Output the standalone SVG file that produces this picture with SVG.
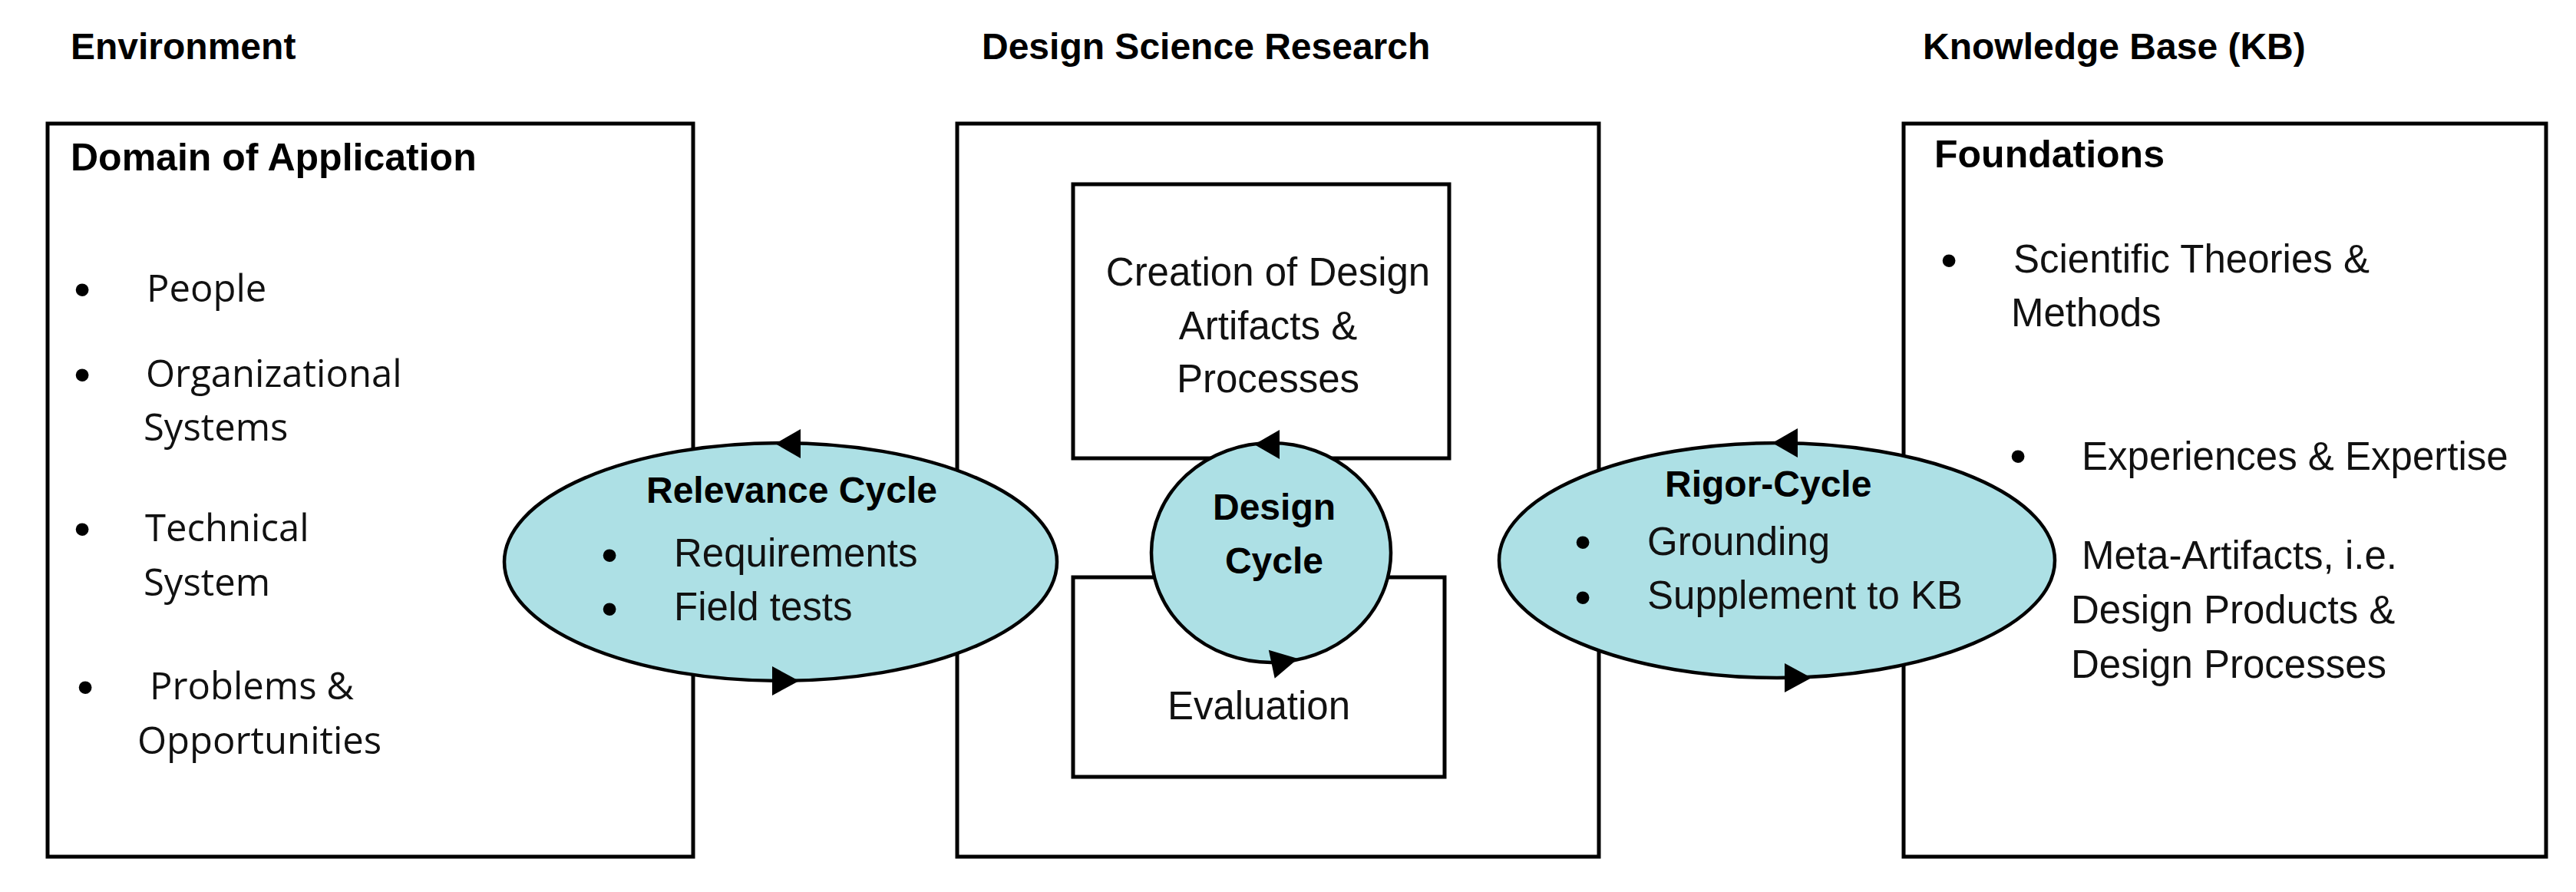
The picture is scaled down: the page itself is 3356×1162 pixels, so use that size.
<svg xmlns="http://www.w3.org/2000/svg" width="3356" height="1162" viewBox="0 0 3356 1162">
<style>
.box{fill:#fff;stroke:#000;stroke-width:5}
.cyc{fill:#ADE0E5;stroke:#000;stroke-width:4.5}
.b{font-family:"Liberation Sans",Arial,sans-serif;font-weight:bold;font-size:48px;fill:#000}
.h{font-family:"Liberation Sans",Arial,sans-serif;font-weight:bold;font-size:50px;fill:#000}
.t{font-family:"Liberation Sans",Arial,sans-serif;font-size:51px;fill:#111}
.o{font-family:"Open Sans","Liberation Sans",sans-serif;font-size:49px;fill:#111}
.bul{font-family:"Liberation Sans",Arial,sans-serif;font-size:62px;fill:#000}
.mid{text-anchor:middle}
.arr{fill:#000}
</style>
<defs>
<path id="aL" d="M0,0 L33,-19 L33,19 Z"/>
<path id="aR" d="M0,0 L-35,-19 L-35,19 Z"/>
</defs>
<rect width="3356" height="1162" fill="#fff"/>

<g id="titles">
<text class="b" x="92" y="77" font-size="49">Environment</text>
<text class="b" x="1279" y="77">Design Science Research</text>
<text class="b" x="2505" y="77">Knowledge Base (KB)</text>
</g>

<g id="environment">
<rect class="box" x="62" y="161" width="841" height="955"/>
<text class="h" x="92" y="222">Domain of Application</text>
<text class="bul mid" x="107" y="398">•</text><text class="o" x="191" y="393">People</text>
<text class="bul mid" x="107" y="509">•</text><text class="o" x="190" y="504">Organizational</text>
<text class="o" x="187" y="574">Systems</text>
<text class="bul mid" x="107" y="710">•</text><text class="o" x="189" y="705">Technical</text>
<text class="o" x="187" y="776">System</text>
<text class="bul mid" x="111" y="916">•</text><text class="o" x="195" y="911">Problems &amp;</text>
<text class="o" x="179" y="982">Opportunities</text>
</g>

<g id="design-science-research">
<rect class="box" x="1247" y="161" width="836" height="955"/>
</g>

<g id="creation">
<rect class="box" x="1398" y="240" width="490" height="357"/>
<text class="t mid" x="1652" y="372">Creation of Design</text>
<text class="t mid" x="1652" y="442">Artifacts &amp;</text>
<text class="t mid" x="1652" y="511">Processes</text>
</g>

<g id="evaluation">
<rect class="box" x="1398" y="752" width="484" height="260"/>
<text class="t mid" x="1640" y="937">Evaluation</text>
</g>

<g id="knowledge-base">
<rect class="box" x="2480" y="161" width="837" height="955"/>
<text class="h" x="2520" y="218" font-size="49">Foundations</text>
<text class="bul mid" x="2539" y="360">•</text><text class="t" x="2623" y="355">Scientific Theories &amp;</text>
<text class="t" x="2620" y="425">Methods</text>
<text class="bul mid" x="2629" y="615">•</text><text class="t" x="2712" y="612">Experiences &amp; Expertise</text>
<text class="t" x="2712" y="741">Meta-Artifacts, i.e.</text>
<text class="t" x="2698" y="812">Design Products &amp;</text>
<text class="t" x="2698" y="883">Design Processes</text>
</g>

<g id="relevance-cycle">
<ellipse class="cyc" cx="1017" cy="732" rx="360" ry="155"/>
<text class="b" x="842" y="655">Relevance Cycle</text>
<text class="bul mid" x="794" y="744">•</text><text class="t" x="878" y="738">Requirements</text>
<text class="bul mid" x="794" y="814">•</text><text class="t" x="878" y="808">Field tests</text>
</g>

<g id="design-cycle">
<ellipse class="cyc" cx="1656" cy="720" rx="156" ry="143"/>
<text class="b mid" x="1660" y="677">Design</text>
<text class="b mid" x="1660" y="747">Cycle</text>
</g>

<g id="rigor-cycle">
<ellipse class="cyc" cx="2315" cy="730" rx="362" ry="153"/>
<text class="b" x="2169" y="647">Rigor-Cycle</text>
<text class="bul mid" x="2062" y="727">•</text><text class="t" x="2146" y="723">Grounding</text>
<text class="bul mid" x="2062" y="799">•</text><text class="t" x="2146" y="793">Supplement to KB</text>
</g>

<g id="connectors">
<use class="arr" href="#aL" transform="translate(1010,578)"/>
<use class="arr" href="#aR" transform="translate(1041,887)"/>
<use class="arr" href="#aL" transform="translate(1634,579)"/>
<use class="arr" href="#aR" transform="translate(1691,858) rotate(-12)"/>
<use class="arr" href="#aL" transform="translate(2309,577)"/>
<use class="arr" href="#aR" transform="translate(2360,883)"/>
</g>
</svg>
